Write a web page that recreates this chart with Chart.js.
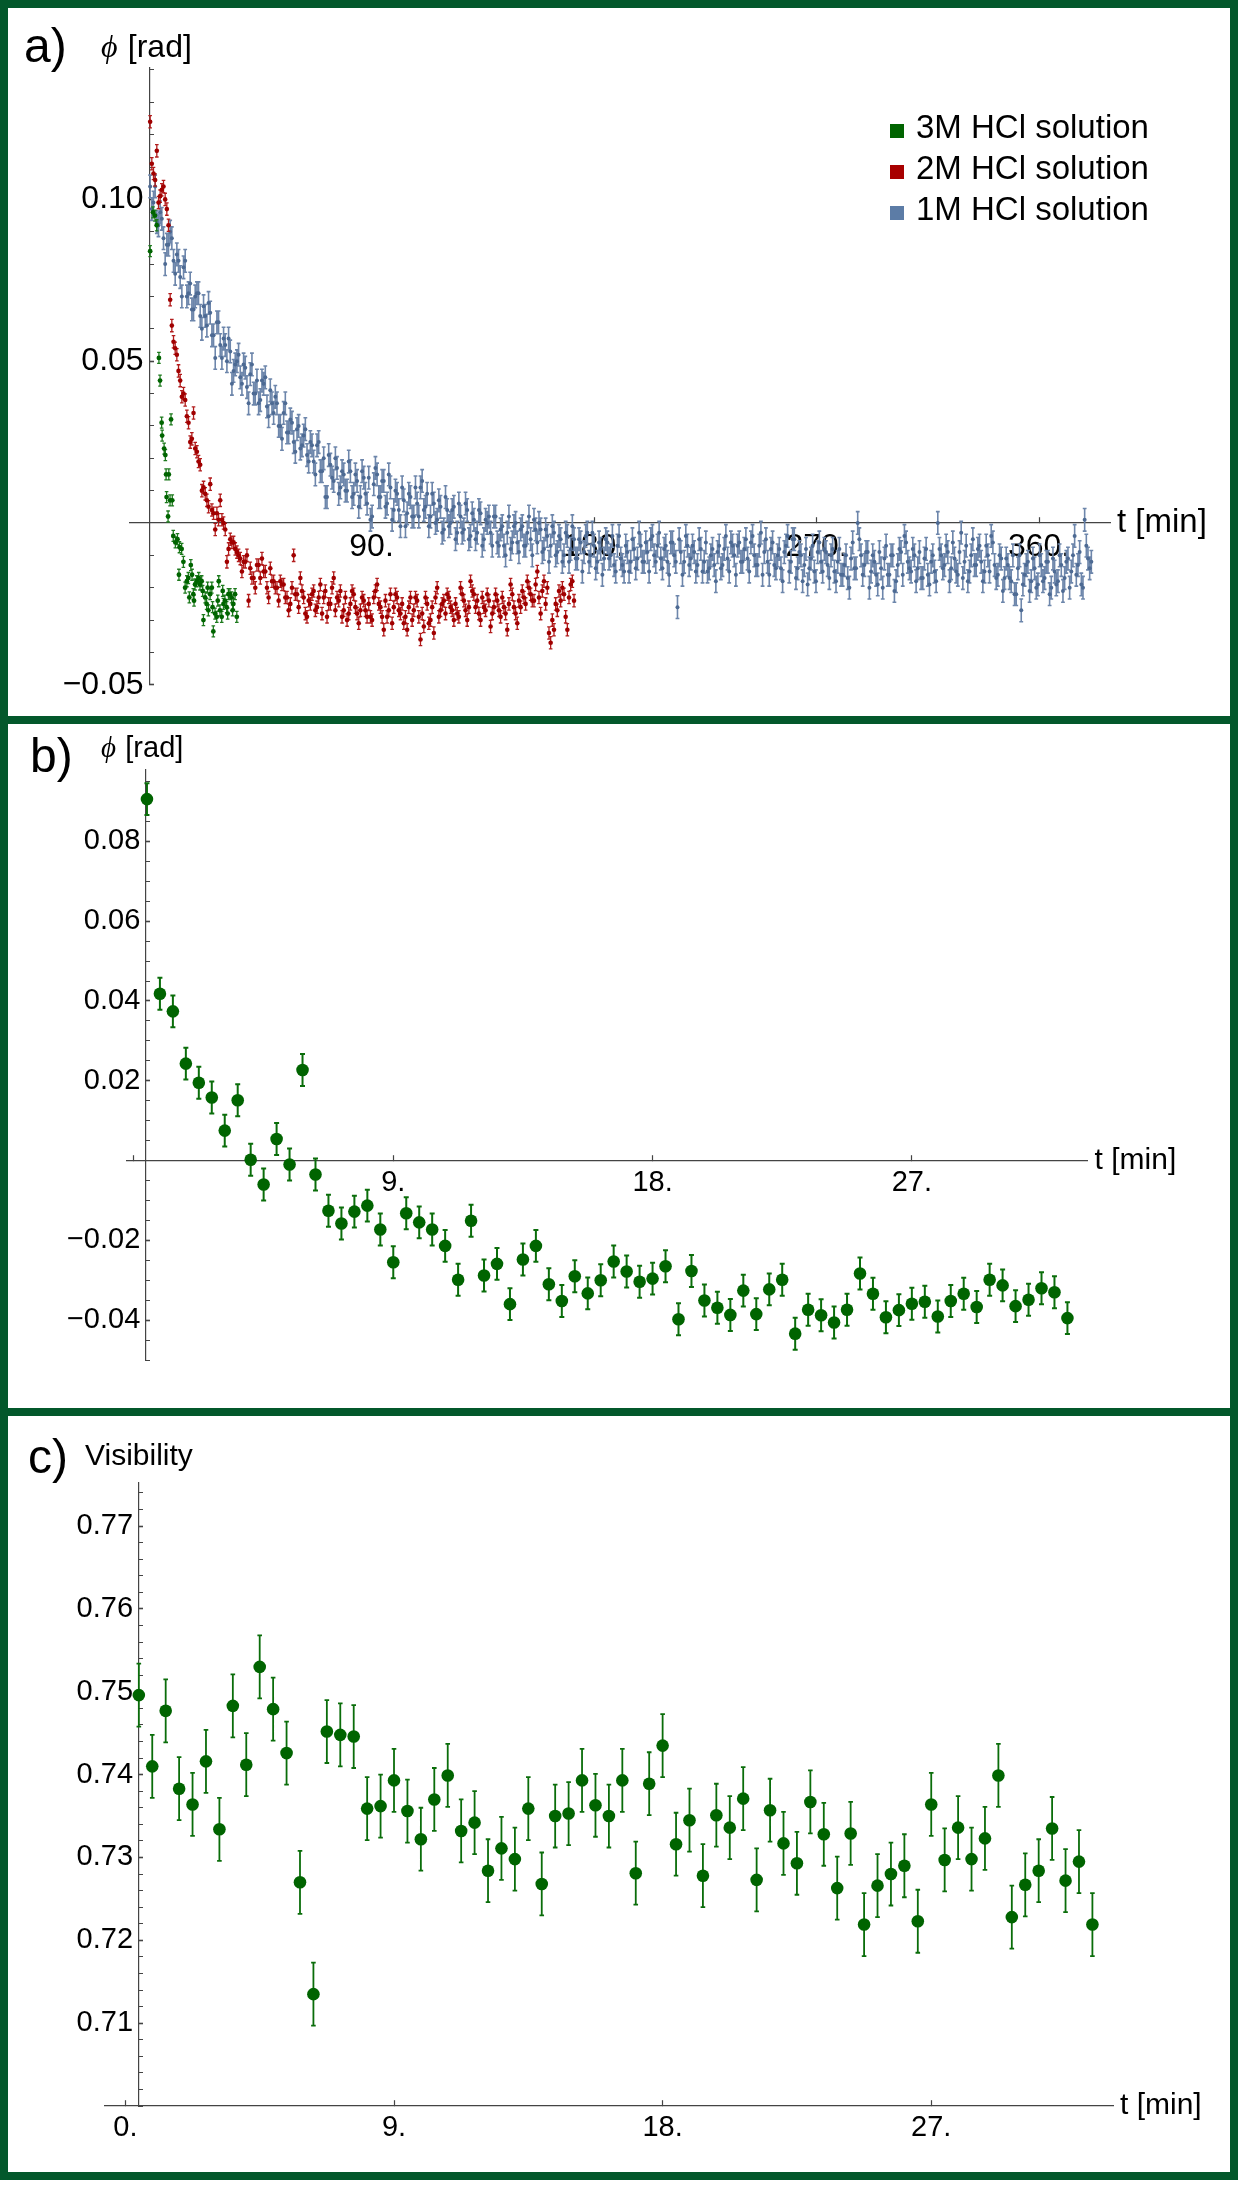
<!DOCTYPE html>
<html>
<head>
<meta charset="utf-8">
<script src="https://cdn.jsdelivr.net/npm/chart.js@4/dist/chart.umd.min.js"></script>
<style>
  html, body { margin: 0; padding: 0; background: #fff; }
  body { position: relative; width: 1240px; height: 2197px; overflow: hidden; }
  .frame { position: absolute; left: 0; width: 1238px; box-sizing: border-box; border: 8px solid #03582b; }
  canvas { position: absolute; left: 8px; }
</style>
</head>
<body>
<div class="frame" style="top:0;height:724px"></div>
<div class="frame" style="top:716px;height:700px"></div>
<div class="frame" style="top:1408px;height:772px"></div>
<canvas id="phaseAll" width="1222" height="708" style="top:8px"></canvas>
<canvas id="phase3M" width="1222" height="684" style="top:724px"></canvas>
<canvas id="visibility" width="1222" height="756" style="top:1416px"></canvas>
<script>
const FONT = '"Liberation Sans", Arial, sans-serif';
const AXIS = '#444';

// a) phase for the three acid concentrations
// 1M and 2M: two interleaved read-outs, each every 1.35 min (second one offset by half a step)
const A_SERIES = ['3M HCl solution', '2M HCl solution', '1M HCl solution'];
const A_T0 = 0.45, A_STEP = 1.35;
const A_1M = [
  0.104, 0.099, 0.093, 0.096, 0.088, 0.086, 0.090, 0.081, 0.083, 0.076,
  0.079, 0.070, 0.074, 0.066, 0.071, 0.064, 0.067, 0.061, 0.065, 0.058,
  0.062, 0.055, 0.057, 0.050, 0.053, 0.047, 0.050, 0.045, 0.049, 0.042,
  0.046, 0.040, 0.044, 0.038, 0.043, 0.036, 0.041, 0.034, 0.037, 0.030,
  0.034, 0.028, 0.032, 0.025, 0.029, 0.023, 0.027, 0.021, 0.025, 0.019,
  0.024, 0.016, 0.020, 0.008, 0.018, 0.013, 0.017, 0.011, 0.015, 0.010,
  0.016, 0.009, 0.013, 0.008, 0.014, 0.006, 0.001, 0.012, 0.015, 0.008,
  0.013, 0.006, 0.011, 0.004, 0.009, -0.001, 0.007, 0.003, 0.008, 0.002,
  0.006, 0.011, 0.004, 0.009, 0.002, 0.006, 0.001, 0.005, -0.002, 0.004,
  0.000, 0.005, -0.003, 0.002, -0.002, 0.004, -0.004, 0.001, -0.003, 0.003,
  -0.005, 0.000, -0.003, 0.002, -0.006, -0.002, -0.007, -0.003, -0.008, -0.001,
  -0.006, -0.002, -0.007, -0.003, -0.005, 0.001, -0.006, -0.002, -0.008, -0.004,
  -0.007, -0.003, -0.009, -0.005, -0.010, -0.004, -0.008, -0.005, -0.011, -0.006,
  -0.009, -0.003, -0.010, -0.007, -0.012, -0.008, -0.011, -0.006, -0.010, -0.013,
  -0.007, -0.011, -0.015, -0.009, -0.012, -0.008, -0.011, -0.007, -0.012, -0.009,
  -0.005, -0.010, -0.007, -0.011, -0.008, -0.012, -0.006, -0.010, -0.026, -0.009,
  -0.012, -0.007, -0.011, -0.009, -0.013, -0.008, -0.012, -0.015, -0.010, -0.013,
  -0.009, -0.014, -0.008, -0.011, -0.006, -0.010, -0.007, -0.012, -0.008, -0.011,
  -0.006, -0.010, -0.013, -0.003, -0.009, -0.012, -0.008, -0.013, -0.010, -0.014,
  -0.009, -0.004, -0.012, -0.005, -0.014, -0.010, -0.013, -0.019, -0.011, -0.015,
  -0.009, -0.012, -0.008, -0.013, -0.010, -0.015, -0.012, -0.016, -0.013, -0.017,
  -0.011, -0.014, 0.000, -0.010, -0.013, -0.009, -0.015, -0.012, -0.019, -0.014,
  -0.011, -0.016, -0.010, -0.021, -0.013, -0.009, -0.004, -0.012, -0.015, -0.010,
  -0.014, -0.017, -0.011, -0.016, -0.012, -0.015, 0.000, -0.010, -0.013, -0.009,
  -0.014, -0.011, -0.016, -0.003, -0.012, -0.018, -0.010, -0.013, -0.008, -0.012,
  -0.015, -0.010, -0.004, -0.013, -0.016, -0.011, -0.017, -0.013, -0.018, -0.022,
  -0.014, -0.027, -0.016, -0.012, -0.018, -0.014, -0.019, -0.013, -0.017, -0.012,
  -0.020, -0.015, -0.018, -0.013, -0.017, -0.011, -0.015, -0.004, -0.013, -0.019,
  0.001, -0.011, -0.012
];
const A_1M_MID = [
  0.097, 0.104, 0.092, 0.094, 0.080, 0.086, 0.088, 0.077, 0.081, 0.070,
  0.081, 0.071, 0.066, 0.070, 0.071, 0.060, 0.064, 0.068, 0.058, 0.051,
  0.062, 0.051, 0.055, 0.057, 0.043, 0.049, 0.052, 0.043, 0.048, 0.037,
  0.049, 0.040, 0.037, 0.044, 0.045, 0.033, 0.037, 0.039, 0.030, 0.026,
  0.037, 0.028, 0.031, 0.022, 0.030, 0.024, 0.029, 0.019, 0.024, 0.015,
  0.025, 0.016, 0.008, 0.021, 0.014, 0.020, 0.009, 0.016, 0.010, 0.019,
  0.008, 0.015, 0.005, 0.016, 0.009, 0.014, 0.002, 0.017, 0.008, 0.013,
  0.005, 0.015, 0.001, 0.010, 0.004, 0.011, -0.001, 0.009, 0.002, 0.011,
  0.002, 0.013, 0.005, -0.001, 0.009, 0.000, 0.007, -0.003, 0.008, -0.001,
  0.004, -0.005, 0.006, -0.003, 0.006, -0.005, 0.003, -0.005, 0.004, -0.007,
  0.001, 0.002, -0.007, 0.002, -0.007, -0.001, -0.010, 0.002, -0.006, 0.000,
  -0.009, -0.001, -0.007, 0.002, -0.010, -0.002, 0.000, -0.009, -0.002, -0.012,
  -0.001, -0.010, -0.004, -0.012, -0.003, -0.012, -0.001, -0.011, -0.005, -0.015,
  -0.004, -0.012, -0.003, -0.014, -0.006, -0.016, -0.005, -0.011, -0.004, -0.015,
  -0.004, -0.013, -0.007, -0.015, -0.005, -0.014, -0.003, -0.012, -0.006, -0.015,
  -0.004, -0.012, -0.003, -0.014, -0.007, -0.016, -0.006, -0.012, -0.005, -0.016,
  -0.004, -0.013, -0.007, -0.015, -0.005, -0.015, -0.006, -0.014, -0.008, -0.018,
  -0.007, -0.013, -0.004, -0.015, -0.007, -0.016, -0.006, -0.012, -0.005, -0.015,
  -0.004, -0.013, -0.007, -0.016, -0.005, -0.016, -0.006, -0.014, -0.008, -0.018,
  -0.007, -0.015, -0.005, -0.017, -0.009, -0.018, -0.008, -0.014, -0.007, -0.018,
  -0.006, -0.015, -0.009, -0.017, -0.008, -0.018, -0.008, -0.016, -0.010, -0.020,
  -0.006, -0.014, -0.005, -0.016, -0.009, -0.020, -0.010, -0.016, -0.009, -0.020,
  -0.007, -0.016, -0.010, -0.018, -0.008, -0.016, -0.006, -0.014, -0.008, -0.018,
  -0.009, -0.017, -0.008, -0.019, -0.010, -0.018, -0.008, -0.014, -0.007, -0.018,
  -0.006, -0.015, -0.009, -0.017, -0.007, -0.015, -0.005, -0.013, -0.007, -0.018,
  -0.007, -0.015, -0.006, -0.017, -0.010, -0.021, -0.011, -0.017, -0.010, -0.022,
  -0.010, -0.019, -0.013, -0.021, -0.011, -0.020, -0.010, -0.018, -0.012, -0.022,
  -0.011, -0.019, -0.010, -0.021, -0.012, -0.020, -0.010, -0.016, -0.009, -0.020,
  -0.007, -0.014
];
const A_2M = [
  0.124, 0.108, 0.115, 0.101, 0.104, 0.097, 0.069, 0.056, 0.052, 0.044,
  0.040, 0.033, 0.025, 0.034, 0.022, 0.018, 0.011, 0.007, 0.012, 0.003,
  0.003, 0.007, 0.000, -0.012, -0.005, -0.006, -0.009, -0.011, -0.012, -0.010,
  -0.014, -0.017, -0.013, -0.017, -0.015, -0.020, -0.014, -0.018, -0.020, -0.018,
  -0.019, -0.023, -0.025, -0.010, -0.022, -0.017, -0.023, -0.029, -0.025, -0.021,
  -0.026, -0.019, -0.023, -0.029, -0.025, -0.017, -0.023, -0.021, -0.027, -0.030,
  -0.025, -0.022, -0.028, -0.027, -0.024, -0.029, -0.029, -0.023, -0.019, -0.026,
  -0.033, -0.029, -0.022, -0.026, -0.023, -0.028, -0.031, -0.033, -0.023, -0.027,
  -0.024, -0.036, -0.032, -0.025, -0.030, -0.034, -0.020, -0.027, -0.024, -0.022,
  -0.026, -0.030, -0.028, -0.020, -0.024, -0.030, -0.018, -0.022, -0.024, -0.030,
  -0.026, -0.022, -0.032, -0.026, -0.024, -0.029, -0.026, -0.033, -0.019, -0.026,
  -0.031, -0.026, -0.023, -0.018, -0.022, -0.024, -0.015, -0.028, -0.018, -0.020,
  -0.037, -0.033, -0.027, -0.024, -0.022, -0.033, -0.019, -0.024
];
const A_2M_MID = [
  0.111, 0.106, 0.099, 0.103, 0.100, 0.092, 0.061, 0.054, 0.047, 0.039,
  0.038, 0.031, 0.026, 0.023, 0.019, 0.010, 0.009, 0.005, 0.004, -0.002,
  0.001, 0.001, -0.002, -0.008, -0.006, -0.008, -0.010, -0.015, -0.012, -0.024,
  -0.017, -0.020, -0.013, -0.011, -0.015, -0.023, -0.018, -0.020, -0.024, -0.019,
  -0.023, -0.027, -0.020, -0.022, -0.026, -0.021, -0.028, -0.024, -0.022, -0.027,
  -0.023, -0.028, -0.021, -0.025, -0.020, -0.027, -0.024, -0.029, -0.023, -0.028,
  -0.021, -0.026, -0.031, -0.023, -0.027, -0.025, -0.030, -0.021, -0.025, -0.029,
  -0.024, -0.027, -0.031, -0.022, -0.027, -0.025, -0.029, -0.026, -0.030, -0.023,
  -0.029, -0.028, -0.023, -0.031, -0.026, -0.023, -0.029, -0.025, -0.028, -0.023,
  -0.027, -0.025, -0.029, -0.022, -0.027, -0.026, -0.021, -0.026, -0.028, -0.023,
  -0.027, -0.024, -0.028, -0.022, -0.027, -0.023, -0.028, -0.025, -0.022, -0.028,
  -0.024, -0.021, -0.025, -0.020, -0.024, -0.019, -0.023, -0.021, -0.025, -0.034,
  -0.030, -0.025, -0.021, -0.020, -0.029, -0.023, -0.018
];
const A_3M_T = [
  0.45, 1.6, 2.4, 3.1, 4.0, 4.45, 5.1, 5.3, 6.1, 6.6, 6.9, 7.1, 7.7, 8.0, 8.5,
  8.9, 9.4, 9.8, 10.65, 11.5, 12.1, 12.3, 13.2, 13.9, 14.6, 15.3, 15.9, 16.3, 16.9, 17.4,
  17.9, 18.2, 18.6, 19.3, 20.1, 20.6, 21.3, 21.7, 22.0, 22.7, 23.3, 23.7, 24.0, 24.7, 25.4,
  25.7, 26.0, 26.7, 27.4, 27.8, 28.2, 28.7, 29.4, 29.8, 30.1, 30.7, 31.4, 31.8, 32.1, 32.7,
  33.4, 33.8, 34.1, 34.8, 35.5
];
const A_3M = [
  0.084, 0.096, 0.095, 0.092, 0.051, 0.044, 0.031, 0.027, 0.023, 0.021, 0.015, 0.008, 0.002, 0.015, 0.007,
  0.032, 0.007, -0.004, -0.006, -0.005, -0.016, -0.0075, -0.008, -0.012, -0.020, -0.018, -0.017, -0.023, -0.013, -0.016,
  -0.022, -0.024, -0.019, -0.018, -0.017, -0.019, -0.018, -0.021, -0.030, -0.023, -0.025, -0.020, -0.027, -0.022, -0.020,
  -0.026, -0.0335, -0.028, -0.029, -0.024, -0.018, -0.027, -0.029, -0.021, -0.025, -0.024, -0.026, -0.028, -0.022, -0.022,
  -0.023, -0.027, -0.025, -0.022, -0.029
];
const A_X_TICKS = [90, 180, 270, 360];
const A_X_LABELS = ['90.', '180.', '270.', '360.'];
const A_Y_TICKS = [-0.05, 0.05, 0.1];
const A_Y_LABELS = ['\u22120.05', '0.05', '0.10'];

// b) phase and c) visibility of the 3M run, one point every 0.45 min
const BC_T0 = 0.45, BC_STEP = 0.45;
const B_PHASE = [
  0.0906, 0.0418, 0.0374, 0.0243, 0.0195, 0.0158, 0.0075, 0.0151, 0.0002, -0.0060,
  0.0054, -0.0010, 0.0227, -0.0035, -0.0126, -0.0158, -0.0128, -0.0113, -0.0173, -0.0255,
  -0.0132, -0.0155, -0.0173, -0.0214, -0.0299, -0.0151, -0.0288, -0.0259, -0.0360, -0.0248,
  -0.0214, -0.0310, -0.0352, -0.0290, -0.0333, -0.0300, -0.0253, -0.0278, -0.0304, -0.0296,
  -0.0265, -0.0398, -0.0277, -0.0351, -0.0369, -0.0387, -0.0326, -0.0385, -0.0323, -0.0299,
  -0.0434, -0.0374, -0.0388, -0.0406, -0.0374, -0.0283, -0.0334, -0.0393, -0.0375, -0.0359,
  -0.0354, -0.0391, -0.0352, -0.0334, -0.0367, -0.0299, -0.0313, -0.0365, -0.0349, -0.0320,
  -0.0330, -0.0395
];
const C_VIS = [
  0.7496, 0.7410, 0.7477, 0.7383, 0.7364, 0.7416, 0.7334, 0.7483, 0.7412, 0.7530,
  0.7479, 0.7426, 0.7270, 0.7135, 0.7452, 0.7448, 0.7446, 0.7359, 0.7362, 0.7393,
  0.7356, 0.7322, 0.7370, 0.7399, 0.7332, 0.7342, 0.7284, 0.7311, 0.7298, 0.7359,
  0.7268, 0.7350, 0.7353, 0.7393, 0.7363, 0.7350, 0.7393, 0.7281, 0.7389, 0.7435,
  0.7316, 0.7345, 0.7278, 0.7351, 0.7336, 0.7371, 0.7273, 0.7357, 0.7317, 0.7293,
  0.7367, 0.7328, 0.7263, 0.7329, 0.7219, 0.7266, 0.7280, 0.7290, 0.7223, 0.7364,
  0.7297, 0.7336, 0.7298, 0.7323, 0.7399, 0.7228, 0.7267, 0.7284, 0.7335, 0.7272,
  0.7295, 0.7219
];
const B_X_TICKS = [0, 9, 18, 27];
const B_X_LABELS = ['', '9.', '18.', '27.'];
const B_Y_TICKS = [-0.04, -0.02, 0.02, 0.04, 0.06, 0.08];
const B_Y_LABELS = ['\u22120.04', '\u22120.02', '0.02', '0.04', '0.06', '0.08'];
const C_X_TICKS = [0, 9, 18, 27];
const C_X_LABELS = ['0.', '9.', '18.', '27.'];
const C_Y_TICKS = [0.71, 0.72, 0.73, 0.74, 0.75, 0.76, 0.77];
const C_Y_LABELS = ['0.71', '0.72', '0.73', '0.74', '0.75', '0.76', '0.77'];

const evenly = (vals, t0, dt) => vals.map((v, i) => ({ x: t0 + i * dt, y: v }));
const paired = (ts, vals) => ts.map((t, i) => ({ x: t, y: vals[i] }));
const steps = (lo, hi, step) => {
  const out = [];
  for (let i = Math.round(lo / step); i * step <= hi + 1e-9; i++) out.push(+(i * step).toFixed(4));
  return out;
};
const near = (list, v) => list.findIndex(t => Math.abs(t - v) < 1e-7);

// error bars, drawn under each dataset's points
const errorBars = {
  id: 'errorBars',
  beforeDatasetDraw(chart, { index }) {
    const ds = chart.data.datasets[index];
    if (!ds.err) return;
    const { ctx, chartArea: a, scales: { x, y } } = chart;
    ctx.save();
    ctx.beginPath();
    ctx.rect(a.left, a.top, a.width, a.height);
    ctx.clip();
    ctx.strokeStyle = ds.errColor;
    ctx.lineWidth = ds.errWidth;
    ctx.beginPath();
    for (const p of ds.data) {
      const px = x.getPixelForValue(p.x);
      const lo = y.getPixelForValue(p.y - ds.err), hi = y.getPixelForValue(p.y + ds.err);
      ctx.moveTo(px, lo); ctx.lineTo(px, hi);
      ctx.moveTo(px - ds.cap, lo); ctx.lineTo(px + ds.cap, lo);
      ctx.moveTo(px - ds.cap, hi); ctx.lineTo(px + ds.cap, hi);
    }
    ctx.stroke();
    ctx.restore();
  }
};

// panel letter, axis titles and the little square legend
const panelText = {
  id: 'panelText',
  afterDraw(chart, args, o) {
    const { ctx, chartArea, scales: { y } } = chart;
    ctx.save();
    ctx.fillStyle = '#000';
    ctx.textBaseline = 'alphabetic';
    ctx.font = `48px ${FONT}`;
    ctx.fillText(o.letter, o.letterAt[0], o.letterAt[1]);
    let tx = o.titleAt[0];
    if (o.phi) {
      ctx.font = `italic ${o.titleSize}px "Liberation Serif", serif`;
      ctx.fillText('\u03D5', tx, o.titleAt[1]);
      tx += ctx.measureText('\u03D5').width + o.titleSize * 0.32;
    }
    ctx.font = `${o.titleSize}px ${FONT}`;
    ctx.fillText(o.title, tx, o.titleAt[1]);
    ctx.textBaseline = 'middle';
    ctx.font = `${o.xTitleSize}px ${FONT}`;
    ctx.fillText('t [min]', chartArea.right + 7, y.getPixelForValue(o.xAt));
    if (o.legend) {
      const L = o.legend;
      ctx.textBaseline = 'alphabetic';
      ctx.font = `${L.size}px ${FONT}`;
      chart.data.datasets.forEach((ds, i) => {
        const base = L.y + i * L.gap;
        ctx.fillStyle = ds.legendColor;
        ctx.fillRect(L.x, base - 14, 14, 14);
        ctx.fillStyle = '#000';
        ctx.fillText(ds.label, L.x + 26, base);
      });
    }
    ctx.restore();
  }
};

function axes(p) {
  const font = { family: FONT, size: p.fontSize };
  return {
    x: {
      type: 'linear', min: p.x[0], max: p.x[1], position: { y: p.xAt },
      afterBuildTicks: s => { s.ticks = p.xTicks.map(v => ({ value: v })); },
      ticks: {
        font, color: '#000', padding: 11, maxRotation: 0, autoSkip: false,
        callback: v => { const i = near(p.xTicks, v); return i < 0 ? '' : p.xLabels[i]; }
      },
      grid: { drawOnChartArea: false, tickLength: -6, tickColor: AXIS, tickWidth: 1.2 },
      border: { color: AXIS, width: 1.2 }
    },
    y: {
      type: 'linear', min: p.y[0], max: p.y[1], position: { x: p.yAt },
      afterBuildTicks: s => { s.ticks = p.yMinor.map(v => ({ value: v })); },
      ticks: {
        font, color: '#000', padding: 12, autoSkip: false,
        // thin space keeps the label clear of the axis line
        callback: v => { const i = near(p.yTicks, v); return i < 0 ? '' : p.yLabels[i] + '\u2009'; }
      },
      grid: {
        drawOnChartArea: false, tickLength: -5, tickColor: AXIS,
        tickWidth: c => (c.tick && near(p.yTicks, c.tick.value) >= 0 ? 1.6 : 1)
      },
      border: { color: AXIS, width: 1.2 }
    }
  };
}

const common = {
  responsive: false,
  animation: false,
  events: [],
  plugins: { legend: { display: false }, tooltip: { enabled: false } }
};

new Chart(document.getElementById('phaseAll'), {
  type: 'scatter',
  plugins: [errorBars, panelText],
  data: {
    datasets: [
      { label: A_SERIES[0], data: paired(A_3M_T, A_3M), backgroundColor: '#006400', legendColor: '#006400',
        pointRadius: 2.4, borderWidth: 0, err: 0.0017, errColor: '#1d7a1d', errWidth: 1.3, cap: 1.8 },
      { label: A_SERIES[1],
        data: [...evenly(A_2M, A_T0, A_STEP), ...evenly(A_2M_MID, A_T0 + A_STEP / 2, A_STEP)],
        backgroundColor: '#a00000', legendColor: '#a80000',
        pointRadius: 2.3, borderWidth: 0, err: 0.0019, errColor: '#b21c1c', errWidth: 1.3, cap: 1.8 },
      { label: A_SERIES[2],
        data: [...evenly(A_1M, A_T0, A_STEP), ...evenly(A_1M_MID, A_T0 + A_STEP / 2, A_STEP)],
        backgroundColor: '#4d6a93', legendColor: '#5c7ca6',
        pointRadius: 2, borderWidth: 0, err: 0.0035, errColor: '#6d86ab', errWidth: 1.6, cap: 1.9 }
    ]
  },
  options: {
    ...common,
    layout: { padding: { left: 122, right: 120, top: 60, bottom: 25 } },
    scales: axes({
      x: [-7.7, 388.7], xAt: 0, xTicks: A_X_TICKS, xLabels: A_X_LABELS,
      y: [-0.05, 0.1406], yAt: 0.4, yTicks: A_Y_TICKS, yLabels: A_Y_LABELS,
      yMinor: steps(-0.05, 0.14, 0.01), fontSize: 32
    }),
    plugins: {
      ...common.plugins,
      panelText: {
        letter: 'a)', letterAt: [16, 54], phi: true, title: '[rad]', titleAt: [93, 49], titleSize: 32,
        xAt: 0, xTitleSize: 33, legend: { x: 882, y: 130, gap: 41, size: 33 }
      }
    }
  }
});

new Chart(document.getElementById('phase3M'), {
  type: 'scatter',
  plugins: [errorBars, panelText],
  data: {
    datasets: [
      { label: A_SERIES[0], data: evenly(B_PHASE, BC_T0, BC_STEP), backgroundColor: '#006400',
        pointRadius: 6.3, borderWidth: 0, err: 0.004, errColor: '#0a6d0a', errWidth: 2, cap: 2.5 }
    ]
  },
  options: {
    ...common,
    layout: { padding: { left: 118.5, right: 142.4, top: 46, bottom: 48 } },
    scales: axes({
      x: [-0.26, 33.1], xAt: 0, xTicks: B_X_TICKS, xLabels: B_X_LABELS,
      y: [-0.05, 0.0979], yAt: 0.42, yTicks: B_Y_TICKS, yLabels: B_Y_LABELS,
      yMinor: steps(-0.05, 0.095, 0.005), fontSize: 29
    }),
    plugins: {
      ...common.plugins,
      panelText: {
        letter: 'b)', letterAt: [22, 48], phi: true, title: '[rad]', titleAt: [93, 33], titleSize: 29,
        xAt: 0, xTitleSize: 30
      }
    }
  }
});

new Chart(document.getElementById('visibility'), {
  type: 'scatter',
  plugins: [errorBars, panelText],
  data: {
    datasets: [
      { label: 'Visibility', data: evenly(C_VIS, BC_T0, BC_STEP), backgroundColor: '#006400',
        pointRadius: 6.3, borderWidth: 0, err: 0.0038, errColor: '#0a6d0a', errWidth: 1.8, cap: 2.3 }
    ]
  },
  options: {
    ...common,
    layout: { padding: { left: 96.8, right: 117, top: 67, bottom: 66 } },
    scales: axes({
      x: [-0.69, 33.09], xAt: 0.70, xTicks: C_X_TICKS, xLabels: C_X_LABELS,
      y: [0.70, 0.7752], yAt: 0.45, yTicks: C_Y_TICKS, yLabels: C_Y_LABELS,
      yMinor: steps(0.70, 0.774, 0.002), fontSize: 29
    }),
    plugins: {
      ...common.plugins,
      panelText: {
        letter: 'c)', letterAt: [20, 57], phi: false, title: 'Visibility', titleAt: [77, 49], titleSize: 30,
        xAt: 0.70, xTitleSize: 30
      }
    }
  }
});
</script>
</body>
</html>
